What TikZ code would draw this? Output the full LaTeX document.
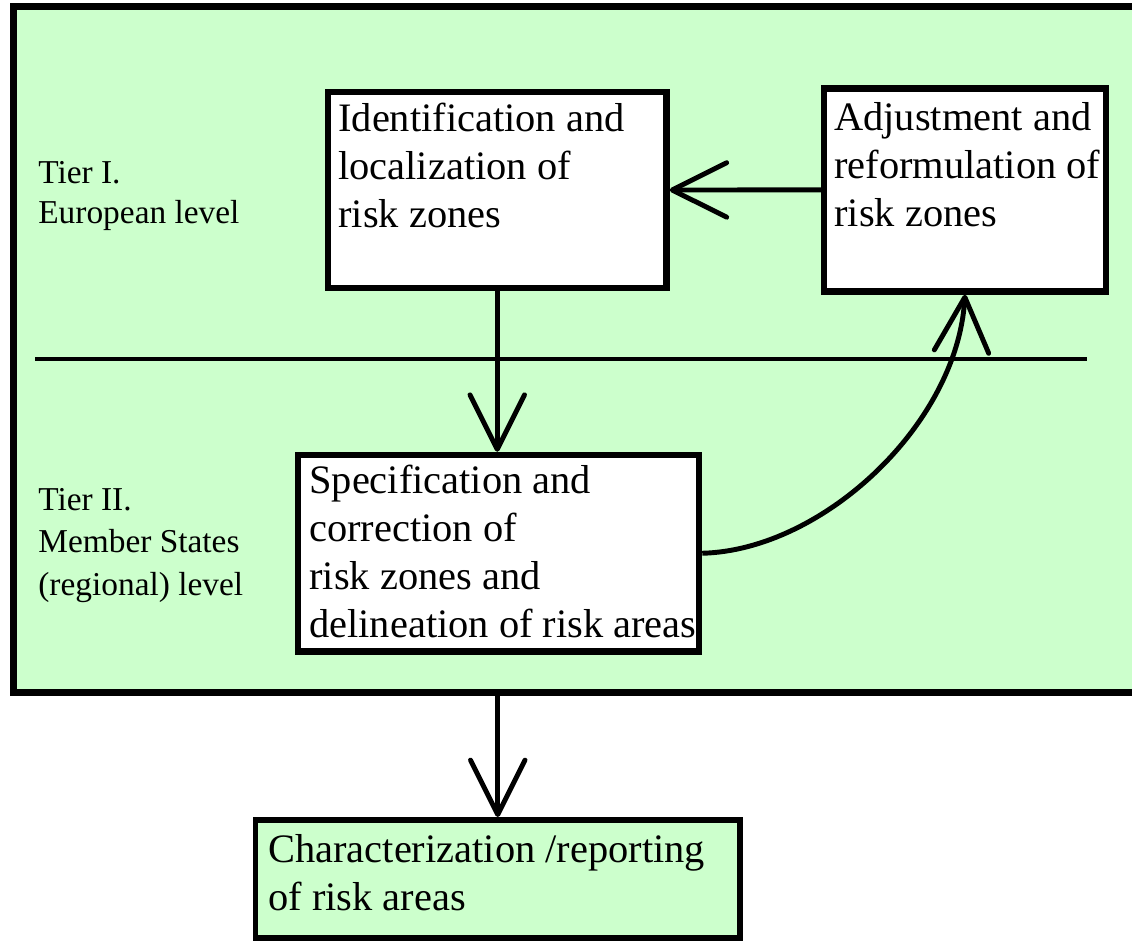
\documentclass[tikz,border=0pt]{standalone}
\usepackage{fontspec}
\setmainfont{Liberation Serif}
\usetikzlibrary{arrows.meta,fit}
\definecolor{paleg}{RGB}{204,255,204}
\newcommand{\mlines}[1]{\begin{tabular}[t]{@{}l@{}}#1\end{tabular}}
\tikzset{
  x=0.02cm, y=-0.02cm,
  frame/.style={draw=black, line width=4pt, fill=paleg, inner sep=0pt},
  whitebox/.style={draw=black, line width=3.7pt, fill=white, inner sep=0pt},
  greenbox/.style={draw=black, line width=3.4pt, fill=paleg, inner sep=0pt},
  boxtext/.style={inner sep=0pt, anchor=base west, font=\fontsize{23}{27.5}\selectfont},
  lowtext/.style={inner sep=0pt, anchor=base west, font=\fontsize{23}{27.5}\selectfont},
  tiertext/.style={inner sep=0pt, anchor=base west, font=\fontsize{19}{23.2}\selectfont},
  tiertextb/.style={inner sep=0pt, anchor=base west, font=\fontsize{19}{24.4}\selectfont},
  divider/.style={line width=2.2pt},
  arr/.style={line width=2.8pt, -{Straight Barb[length=31pt,width=31pt,round]}}
}
\begin{document}
\begin{tikzpicture}
\clip (0,0) rectangle (1132,940);
% outer green frame (runs past the right edge)
\node[frame, fit={(13.5,6.7) (1150,692.5)}] (outer) {};
% divider between tiers
\coordinate (dl) at (35,359);
\coordinate (dr) at (1087,359);
\draw[divider] (dl) -- (dr);
% boxes
\node[whitebox, fit={(328,92) (666.5,288)}] (b1) {};
\node[whitebox, fit={(824,88.3) (1106,291.5)}] (b2) {};
\node[whitebox, fit={(298,455) (699,651.5)}] (b3) {};
\node[greenbox, fit={(255.5,820) (740,938)}] (b4) {};
% texts
\node[boxtext] (t1) at (338,131) {\mlines{Identification and\\localization of\\risk zones}};
\node[boxtext] (t2) at (834,130) {\mlines{Adjustment and\\reformulation of\\risk zones}};
\node[boxtext] (t3) at (309,493) {\mlines{Specification and\\correction of\\risk zones and\\delineation of risk areas}};
\node[lowtext] (t4) at (268,862) {\mlines{Characterization /reporting\\of risk areas}};
\node[tiertext] (l1) at (38,183) {\mlines{Tier I.\\European level}};
\node[tiertextb] (l2) at (38,510) {\mlines{Tier II.\\Member States\\(regional) level}};
% connectors
\draw[arr] (b2.west) -- (b1.east);
\draw[arr] (b1.south) -- (b1.south |- b3.north);
\draw[arr] (b3.east) .. controls +(120,-3) and +(-8,130) .. (b2.south);
\draw[arr] (b4.north |- outer.south) -- (b4.north);
\end{tikzpicture}
\end{document}
